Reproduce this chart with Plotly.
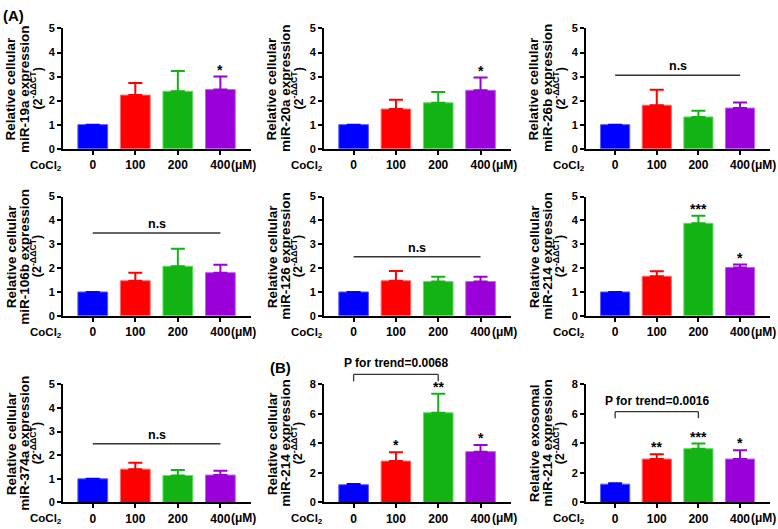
import plotly.graph_objects as go

# ---------------- data ----------------
categories = ["0", "100", "200", "400"]
bar_colors = ["#0000FF", "#FF0000", "#14B314", "#9A00D8"]
edge_colors = ["#5A5AFF", "#FF6A6A", "#5CE05C", "#C060F0"]

mir_names = ["miR-19a", "miR-20a", "miR-26b", "miR-106b", "miR-126",
             "miR-214", "miR-374a", "miR-214", "miR-214"]
title_first = ["Relative cellular"] * 8 + ["Relative exosomal"]

means = [
    [1.0, 2.23, 2.39, 2.46],
    [1.0, 1.65, 1.91, 2.43],
    [1.0, 1.81, 1.32, 1.69],
    [1.0, 1.47, 2.08, 1.81],
    [1.0, 1.47, 1.44, 1.44],
    [1.0, 1.66, 3.88, 2.03],
    [1.0, 1.41, 1.14, 1.16],
    [1.2, 2.80, 6.07, 3.44],
    [1.24, 2.94, 3.64, 2.94],
]
sds = [
    [0.0, 0.50, 0.84, 0.54],
    [0.0, 0.39, 0.45, 0.53],
    [0.0, 0.64, 0.26, 0.23],
    [0.0, 0.34, 0.73, 0.33],
    [0.0, 0.41, 0.20, 0.20],
    [0.0, 0.21, 0.32, 0.12],
    [0.0, 0.27, 0.23, 0.18],
    [0.05, 0.60, 1.28, 0.44],
    [0.06, 0.33, 0.35, 0.59],
]
stars = [
    ["", "", "", "*"],
    ["", "", "", "*"],
    ["", "", "", ""],
    ["", "", "", ""],
    ["", "", "", ""],
    ["", "", "***", "*"],
    ["", "", "", ""],
    ["", "*", "**", "*"],
    ["", "**", "***", "*"],
]
y_max = [5, 5, 5, 5, 5, 5, 5, 8, 8]
y_dtick = [1, 1, 1, 1, 1, 1, 1, 2, 2]

# n.s lines: panel index -> level
ns_levels = {2: 3.05, 3: 3.47, 4: 2.48, 6: 2.48}
# trend brackets: panel index -> (level, low end, label)
trend = {7: (8.66, 8.2, "P for trend=0.0068"),
         8: (6.14, 5.7, "P for trend=0.0016")}

# ---------------- layout geometry ----------------
W, H = 778, 529
col_px = [(63, 251), (324, 511), (586, 770)]
row_px = [(23, 146), (195, 317), (387, 508)]
x_range = [-0.7, 3.72]
FONT = "Liberation Sans, Arial, sans-serif"

fig = go.Figure()
annotations = []
shapes = []
layout = dict(
    width=W, height=H, margin=dict(l=0, r=0, t=0, b=0),
    paper_bgcolor="white", plot_bgcolor="white", showlegend=False,
    barmode="overlay",
    font=dict(family=FONT, color="black", size=12, weight="bold"),
)

xs = list(range(len(categories)))

for i in range(9):
    r, c = divmod(i, 3)
    n = i + 1
    xa = "x" if n == 1 else f"x{n}"
    ya = "y" if n == 1 else f"y{n}"
    xkey = "xaxis" if n == 1 else f"xaxis{n}"
    ykey = "yaxis" if n == 1 else f"yaxis{n}"
    x0, x1 = col_px[c]
    y0, y1 = row_px[r]
    xdom = [x0 / W, x1 / W]
    ydom = [1 - y1 / H, 1 - y0 / H]

    # one trace per category so each error bar takes its bar's colour
    for j in range(len(categories)):
        fig.add_trace(go.Bar(
            x=[xs[j]], y=[means[i][j]], xaxis=xa, yaxis=ya, width=0.7,
            marker=dict(color=bar_colors[j],
                        line=dict(color=edge_colors[j], width=1)),
            error_y=dict(type="data", symmetric=False, array=[sds[i][j]],
                         arrayminus=[0], color=bar_colors[j], thickness=2,
                         width=7, visible=True),
            hoverinfo="skip", showlegend=False,
        ))

    layout[xkey] = dict(
        domain=xdom, anchor=ya, range=x_range, tickvals=xs, ticktext=categories,
        showline=True, linewidth=2, linecolor="black", ticks="outside",
        ticklen=4, tickwidth=2, tickcolor="black", showgrid=False,
        zeroline=False, tickfont=dict(size=12, family=FONT, weight="bold"),
        fixedrange=True,
    )
    layout[ykey] = dict(
        domain=ydom, anchor=xa, range=[0, y_max[i]], dtick=y_dtick[i], tick0=0,
        showline=True, linewidth=2, linecolor="black", ticks="outside",
        ticklen=4, tickwidth=2, tickcolor="black", showgrid=False,
        zeroline=False, tickfont=dict(size=11, family=FONT, weight="bold"),
        fixedrange=True,
    )

    xd = f"{xa} domain"
    yd = f"{ya} domain"
    # y-axis title lines
    lines = [title_first[i], f"{mir_names[i]} expression",
             "(2<sup>-ΔΔCT</sup>)"]
    for k, (txt, off) in enumerate(zip(lines, [-52, -38.5, -27])):
        annotations.append(dict(
            text=txt, xref=xd, yref=yd, x=0, y=0.5, xanchor="center",
            yanchor="middle", xshift=off, textangle=-90, showarrow=False,
            font=dict(size=13.5 if k < 2 else 12.5, family=FONT, weight="bold"),
        ))
    # CoCl2 label and unit
    annotations.append(dict(
        text="CoCl<sub>2</sub>", xref=xd, yref=yd, x=0, y=0, xanchor="right",
        yanchor="middle", yshift=-17, xshift=1, showarrow=False,
        font=dict(size=11.5, family=FONT, weight="bold")))
    annotations.append(dict(
        text="(μM)", xref=xa, yref=yd, x=xs[-1], y=0, xanchor="left",
        yanchor="middle", yshift=-16, xshift=9, showarrow=False,
        font=dict(size=12, family=FONT, weight="bold")))
    # significance stars
    for j, s in enumerate(stars[i]):
        if s:
            annotations.append(dict(
                text=s, xref=xa, yref=ya, x=xs[j], y=means[i][j] + sds[i][j],
                xanchor="center", yanchor="bottom", yshift=-3, showarrow=False,
                font=dict(size=14, family=FONT, weight="bold")))
    # n.s lines
    if i in ns_levels:
        lv = ns_levels[i]
        shapes.append(dict(type="line", xref=xa, yref=ya, x0=xs[0], x1=xs[-1],
                           y0=lv, y1=lv, line=dict(color="#333333", width=1.5)))
        annotations.append(dict(
            text="n.s", xref=xa, yref=ya, x=(xs[0] + xs[-1]) / 2, y=lv,
            xanchor="center", yanchor="bottom", yshift=0, showarrow=False,
            font=dict(size=12.5, family=FONT, weight="bold")))
    # trend brackets (drawn in domain units so they may exceed the axis range)
    if i in trend:
        lv, low, lab = trend[i]

        def fx(v):
            return (v - x_range[0]) / (x_range[1] - x_range[0])

        def fy(v, top=y_max[i]):
            return v / top
        xa0, xa2 = fx(xs[0]), fx(xs[2])
        for (a, b, cc, d) in [(xa0, fy(low), xa0, fy(lv)),
                              (xa0, fy(lv), xa2, fy(lv)),
                              (xa2, fy(lv), xa2, fy(low))]:
            shapes.append(dict(type="line", xref=xd, yref=yd, x0=a, y0=b,
                               x1=cc, y1=d, line=dict(color="#333333", width=1.3)))
        annotations.append(dict(
            text=lab, xref=xa, yref=yd, x=xs[1], y=fy(lv), xanchor="center",
            yanchor="bottom", yshift=2, showarrow=False,
            font=dict(size=12, family=FONT, weight="bold")))

# panel letters
annotations.append(dict(text="(A)", xref="paper", yref="paper", x=0, y=1,
                        xanchor="left", yanchor="top", xshift=1, yshift=1,
                        showarrow=False,
                        font=dict(size=15, family=FONT, weight="bold")))
annotations.append(dict(text="(B)", xref="x8 domain", yref="y8 domain", x=0,
                        y=1, xanchor="left", yanchor="middle", xshift=-56,
                        yshift=17, showarrow=False,
                        font=dict(size=15, family=FONT, weight="bold")))

layout["annotations"] = annotations
layout["shapes"] = shapes
fig.update_layout(**layout)

fig.write_html(
    "out.html",
    config={"displayModeBar": False},
    post_script="document.body.style.margin='0';document.body.style.overflow='hidden';",
)
